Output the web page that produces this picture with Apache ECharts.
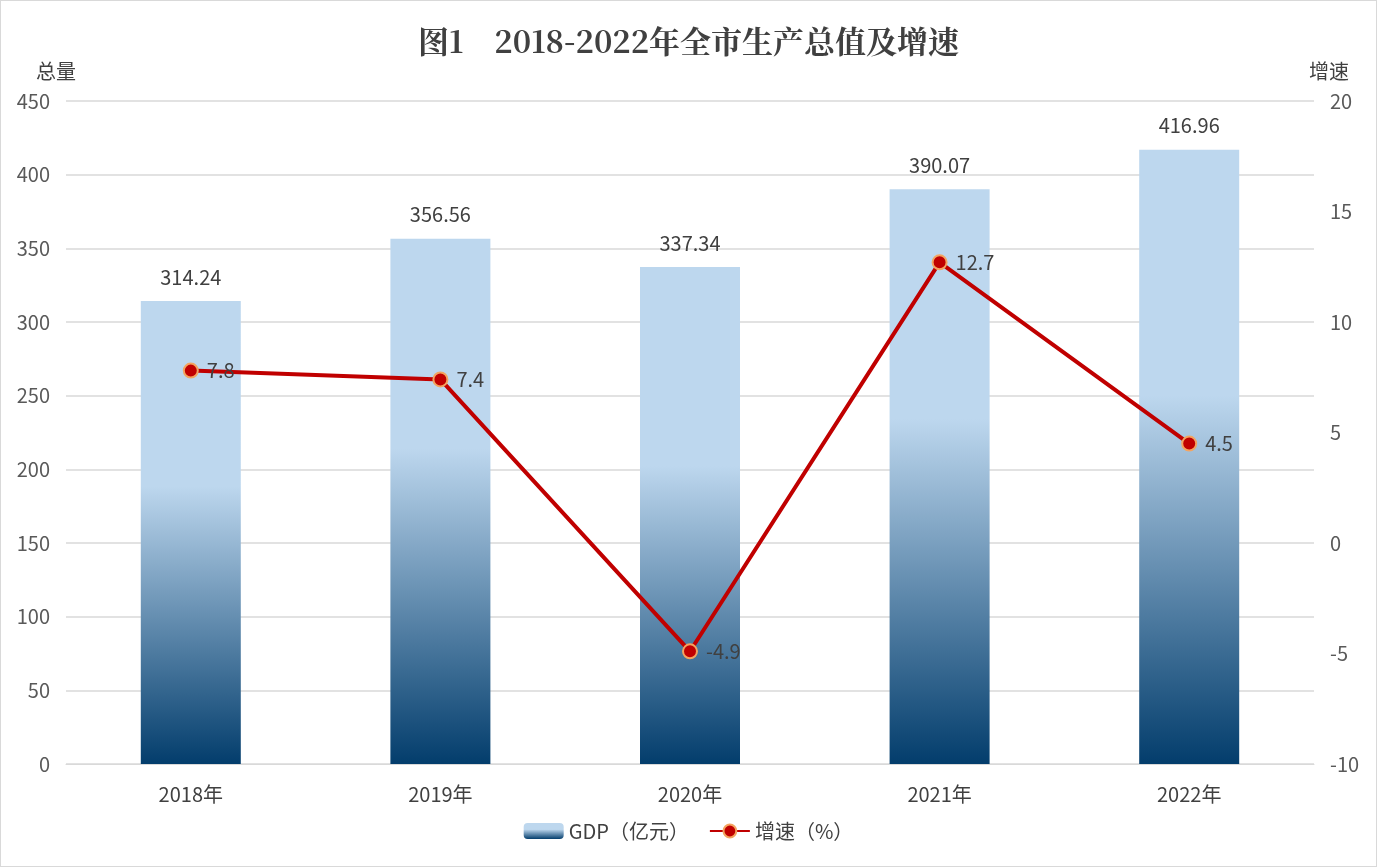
<!DOCTYPE html>
<html>
<head>
<meta charset="UTF-8">
<script src="https://cdn.jsdelivr.net/npm/echarts@6/dist/echarts.min.js"></script>
<style>
  html, body { margin: 0; padding: 0; background: #fff; }
  #main { width: 1375px; height: 865px; border: 1px solid #d9d9d9; }
</style>
</head>
<body>
<div id="main"></div>
<script type="text/javascript">
    var years = ['2018年', '2019年', '2020年', '2021年', '2022年'];
    var gdp = [314.24, 356.56, 337.34, 390.07, 416.96];
    var growth = [7.8, 7.4, -4.9, 12.7, 4.5];

    var myChart = echarts.init(document.getElementById('main'));
    var labelFont = 'Noto Sans CJK SC, Microsoft YaHei, sans-serif';

    var option = {
        backgroundColor: '#FFFFFF',
        title: {
            text: '图1　2018-2022年全市生产总值及增速',
            left: 'center',
            top: 20,
            textStyle: { fontFamily: 'Noto Serif CJK SC, serif', fontSize: 31, fontWeight: 'bold', color: '#404040' }
        },
        legend: {
            bottom: 20,
            itemWidth: 40,
            itemHeight: 16,
            itemGap: 20,
            textStyle: { fontFamily: labelFont, fontSize: 20, color: '#404040' },
            data: ['GDP（亿元）', '增速（%）']
        },
        grid: { left: 65, right: 62, top: 100, bottom: 102, containLabel: false },
        xAxis: {
            type: 'category',
            data: years,
            axisLine: { lineStyle: { color: '#d9d9d9' } },
            axisTick: { show: false },
            axisLabel: { fontFamily: labelFont, fontSize: 20, color: '#404040', margin: 20 }
        },
        yAxis: [{
            type: 'value', name: '总量', min: 0, max: 450, interval: 50,
            nameLocation: 'end', nameGap: 20,
            nameTextStyle: { fontFamily: labelFont, fontSize: 20, color: '#404040', align: 'center', padding: [0, 0, 0, -20] },
            axisLabel: { fontFamily: labelFont, fontSize: 20, color: '#595959', margin: 16 },
            splitLine: { lineStyle: { color: '#d9d9d9', width: 1.5 } }
        }, {
            type: 'value', name: '增速', min: -10, max: 20, interval: 5,
            nameLocation: 'end', nameGap: 20,
            nameTextStyle: { fontFamily: labelFont, fontSize: 20, color: '#404040', align: 'center', padding: [0, 0, 0, 30] },
            axisLabel: { fontFamily: labelFont, fontSize: 20, color: '#595959', margin: 16 },
            splitLine: { show: false }
        }],
        series: [{
            name: 'GDP（亿元）',
            type: 'bar',
            barWidth: 100,
            data: gdp,
            itemStyle: {
                color: new echarts.graphic.LinearGradient(0, 0, 0, 1, [
                    { offset: 0, color: '#BDD7EE' },
                    { offset: 0.4, color: '#BDD7EE' },
                    { offset: 1, color: '#033D6C' }
                ])
            },
            label: { show: true, position: 'top', distance: 14, fontFamily: labelFont, fontSize: 20, color: '#404040' }
        }, {
            name: '增速（%）',
            type: 'line',
            yAxisIndex: 1,
            data: growth,
            symbol: 'circle',
            symbolSize: 14,
            lineStyle: { color: '#C00000', width: 4 },
            itemStyle: { color: '#C00000', borderColor: '#F4A460', borderWidth: 2 },
            label: { show: true, position: 'right', distance: 8, fontFamily: labelFont, fontSize: 20, color: '#404040' }
        }]
    };

    myChart.setOption(option);
</script>
</body>
</html>
